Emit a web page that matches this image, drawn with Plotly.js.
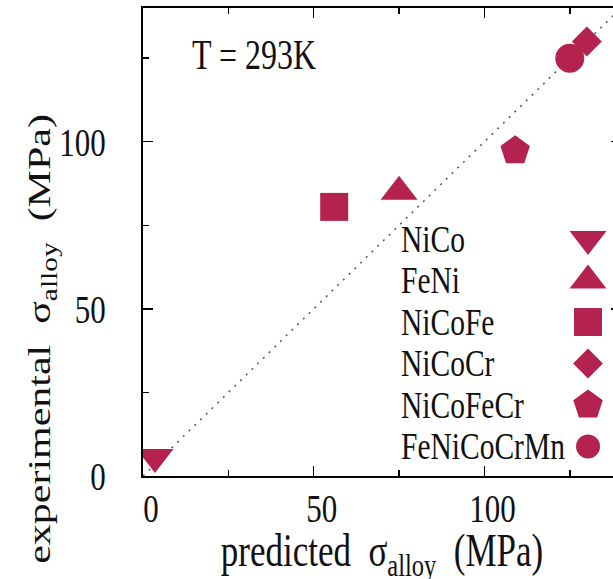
<!DOCTYPE html>
<html><head><meta charset="utf-8">
<script src="https://cdn.plot.ly/plotly-3.0.1.min.js"></script>
<style>
html,body{margin:0;padding:0;overflow:hidden;background:#fff}
#chart{width:640px;height:579px}
</style>
</head><body><div id="chart"></div>
<script>
// ---- data ----
const alloys = ['NiCo', 'FeNi', 'NiCoFe', 'NiCoCr', 'NiCoFeCr', 'FeNiCoCrMn'];
const predicted = [3.5, 75, 56, 130, 109, 125];
const experimental = [5.7, 85, 80.5, 130, 97.3, 125];
const parityLine = [0, 140];
const tickValues = [0, 50, 100];
const minorTickValues = [25, 75, 125];
const temperatureLabel = 'T = 293K';
const xTitle = 'predicted\u00a0\u00a0σ<sub>alloy</sub>\u00a0\u00a0(MPa)';
const yTitle = 'experimental\u00a0\u00a0σ<sub>alloy</sub>\u00a0\u00a0(MPa)';

// ---- styles ----
const colour = '#b4234f';
const symbols = ['triangle-down', 'triangle-up', 'square', 'diamond', 'pentagon', 'circle'];
const sizes = [32, 32, 28, 23, 31, 29];
const legendSizes = [32, 32, 28, 23, 31, 24];
const FONT = 'Liberation Serif';
const TEXT = '#111';

const traces = [{
  x: parityLine, y: parityLine, mode: 'lines', showlegend: false, hoverinfo: 'skip',
  line: {color: '#555', width: 1.5, dash: '2px,6px'}
}];
alloys.forEach((name, i) => {
  traces.push({
    x: [predicted[i]], y: [experimental[i]], name: name, mode: 'markers', showlegend: false,
    marker: {symbol: symbols[i], size: sizes[i], color: colour, opacity: 1, line: {width: 0}}
  });
});
// custom legend (text left, symbol right, as in the reference)
const legendRows = alloys.map((_, i) => i);
traces.push({
  x: alloys.map(() => 0.931), y: legendRows, xaxis: 'x2', yaxis: 'y2', mode: 'markers',
  showlegend: false, hoverinfo: 'skip', cliponaxis: false,
  marker: {symbol: symbols, size: legendSizes, color: colour, opacity: 1, line: {width: 0}}
});

const annotations = alloys.map((name, i) => ({
  text: name, x: 0.535, y: i, xref: 'x2', yref: 'y2', xanchor: 'left', yanchor: 'middle',
  showarrow: false, font: {family: FONT, size: 29.5, color: TEXT}
}));
annotations.push({
  text: temperatureLabel, x: 0.098, y: 0.90, xref: 'paper', yref: 'paper',
  xanchor: 'left', yanchor: 'middle', showarrow: false,
  font: {family: FONT, size: 32, color: TEXT}
});
annotations.push({
  text: yTitle, textangle: -90, x: -0.2135, y: 0.2927, xref: 'paper', yref: 'paper',
  xanchor: 'center', yanchor: 'middle', showarrow: false,
  font: {family: FONT, size: 32.3, color: TEXT}
});

const axisCommon = {
  range: [0, 140], tickvals: tickValues, ticks: 'inside', ticklen: 10, tickwidth: 1.5,
  tickcolor: '#000', showline: true, linewidth: 2, linecolor: '#000', mirror: 'allticks',
  showgrid: false, zeroline: false, fixedrange: true,
  minor: {tickvals: minorTickValues, ticks: 'inside', ticklen: 6, tickwidth: 1.5, tickcolor: '#000', showgrid: false},
  tickfont: {family: FONT, size: 31, color: TEXT}
};

const layout = {
  width: 640, height: 579,
  font: {family: FONT, color: TEXT},
  margin: {l: 143, r: 19, t: 8, b: 103},
  paper_bgcolor: '#fff', plot_bgcolor: '#fff', showlegend: false,
  xaxis: Object.assign({}, axisCommon, {
    ticklabelstandoff: 4, ticklabelshift: 8,
    title: {text: xTitle, standoff: 14, font: {family: FONT, size: 35, color: TEXT}}
  }),
  yaxis: Object.assign({}, axisCommon, {ticklabelstandoff: 29}),
  xaxis2: {overlaying: 'x', range: [0, 1], visible: false, fixedrange: true},
  yaxis2: {overlaying: 'y', range: [5.711, -5.566], visible: false, fixedrange: true},
  annotations: annotations
};

// the reference's lettering is drawn taller than the font's natural proportions;
// stretch each text vertically (in screen space) about its own centre to match.
function stretchTexts(gd, s) {
  gd.querySelectorAll('svg text').forEach(t => {
    const r = t.getBoundingClientRect();
    if (!r.height) return;
    const svg = t.ownerSVGElement;
    const cy = r.top + r.height / 2 - svg.getBoundingClientRect().top;
    const P = t.parentNode.getCTM();
    if (!P) return;
    const S = svg.createSVGMatrix();
    S.a = 1; S.b = 0; S.c = 0; S.d = s; S.e = 0; S.f = cy * (1 - s);
    const X = P.inverse().multiply(S).multiply(P);
    const prev = t.getAttribute('transform') || '';
    t.setAttribute('transform', `matrix(${X.a},${X.b},${X.c},${X.d},${X.e},${X.f}) ${prev}`);
  });
}

Plotly.newPlot('chart', traces, layout, {staticPlot: true, displayModeBar: false})
  .then(gd => stretchTexts(gd, 1.3));
</script>
</body></html>
